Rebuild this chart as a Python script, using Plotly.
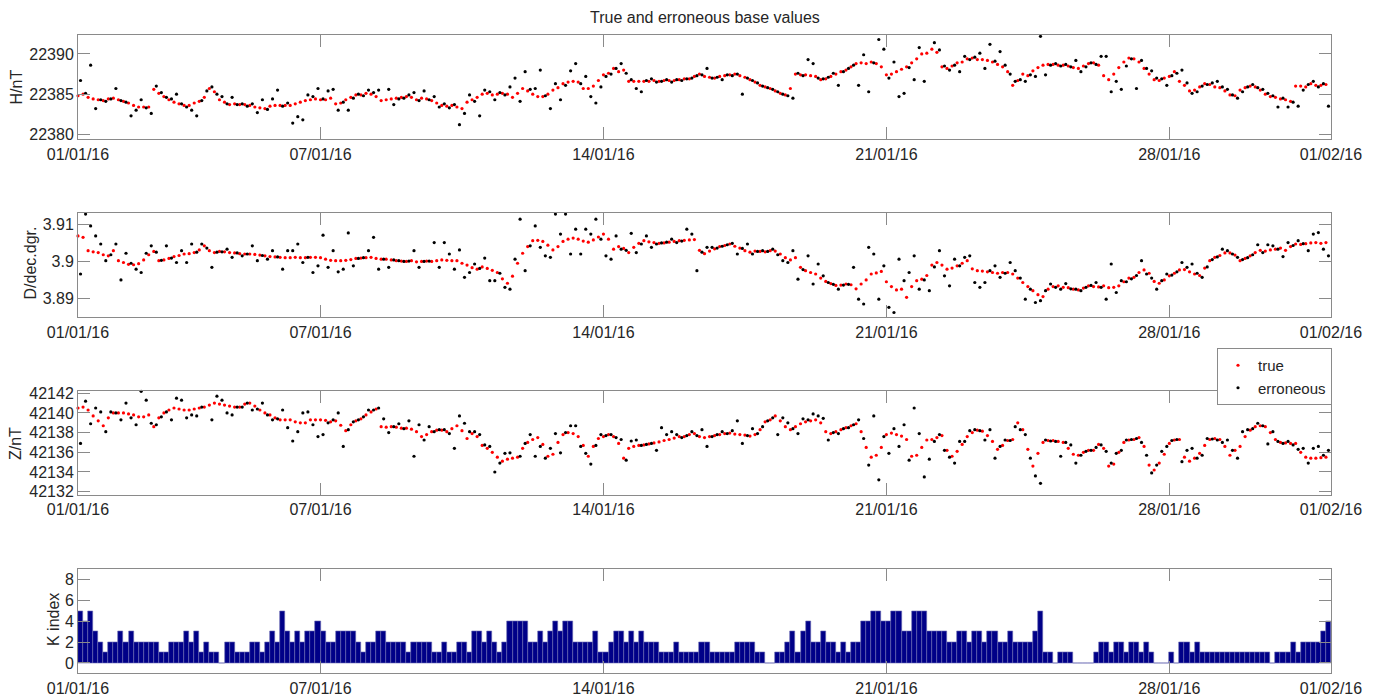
import pandas as pd
import plotly.graph_objects as go

# ---------------- data (3-hourly samples) ----------------
H_TRUE = [
    22384.8, 22385.0, 22384.6, 22384.4, 22384.3, 22384.2, 22384.4, 22384.5,
    22384.3, 22384.1, 22383.9, 22383.6, 22383.4, 22383.4, 22383.4, 22385.6,
    22385.1, 22384.7, 22384.3, 22384.0, 22383.8, 22383.6, 22383.6, 22383.9,
    22384.1, 22384.6, 22385.7, 22385.3, 22384.3, 22384.0, 22383.7, 22383.8,
    22383.7, 22383.7, 22383.6, 22383.4, 22383.3, 22383.2, 22383.5, 22383.6,
    22383.6, 22383.6, 22383.6, 22383.8, 22384.0, 22384.2, 22384.3, 22384.4,
    22384.3, 22384.3, 22384.5, 22383.8, 22383.9, 22384.3, 22384.6, 22384.9,
    22384.9, 22385.1, 22385.0, 22384.7, 22384.2, 22384.3, 22384.4, 22384.5,
    22384.6, 22384.7, 22384.6, 22384.3, 22384.5, 22384.4, 22384.2, 22383.9,
    22383.6, 22383.5, 22383.6, 22383.4, 22383.2, 22384.0, 22384.3, 22384.6,
    22385.0, 22385.1, 22384.9, 22385.0, 22385.1, 22385.0, 22384.6, 22385.1,
    22385.7, 22385.4, 22385.0, 22384.7, 22384.7, 22385.0, 22385.5, 22385.8,
    22386.3, 22386.5, 22386.6, 22386.5, 22385.7, 22385.7, 22386.0, 22386.7,
    22387.4, 22387.6, 22388.2, 22387.8, 22388.0, 22386.6, 22386.6, 22386.6,
    22386.6, 22386.6, 22386.7, 22386.6, 22386.7, 22386.7, 22386.7, 22386.8,
    22386.9, 22386.9, 22387.2, 22387.5, 22387.2, 22387.1, 22387.0, 22387.2,
    22387.3, 22387.4, 22387.5, 22387.3, 22387.1, 22386.8, 22386.5, 22386.1,
    22385.9, 22385.7, 22385.4, 22385.1, 22384.9, 22385.7, 22387.5, 22387.4,
    22387.4, 22387.3, 22387.2, 22386.8, 22386.9, 22387.2, 22387.5, 22387.8,
    22388.0, 22388.4, 22388.8, 22388.9, 22388.8, 22389.0, 22388.8, 22388.4,
    22387.4, 22387.5, 22387.8, 22388.1, 22388.4, 22388.9, 22389.4, 22390.0,
    22390.1, 22390.6, 22390.2, 22388.4, 22388.2, 22388.5, 22388.9, 22389.0,
    22389.4, 22389.5, 22389.3, 22389.3, 22389.2, 22389.0, 22388.7, 22388.4,
    22387.8, 22386.1, 22386.7, 22387.5, 22387.3, 22387.9, 22388.3, 22388.6,
    22388.7, 22388.7, 22388.6, 22388.6, 22388.5, 22388.3, 22388.2, 22388.5,
    22388.8, 22388.9, 22388.6, 22387.3, 22386.8, 22387.5, 22388.3, 22389.0,
    22389.5, 22389.4, 22389.0, 22388.2, 22387.5, 22386.8, 22386.7, 22387.0,
    22387.2, 22387.8, 22386.6, 22386.1, 22385.4, 22385.5, 22385.9, 22386.3,
    22386.2, 22385.9, 22385.8, 22385.4, 22384.9, 22384.8, 22385.5, 22385.8,
    22386.0, 22385.9, 22385.5, 22385.0, 22384.7, 22384.6, 22384.4, 22384.3,
    22384.1, 22386.0, 22386.0, 22385.9, 22386.3, 22386.1, 22386.1, 22386.2,
]
H_ERR = [
    22386.7, 22385.1, 22388.6, 22383.2, 22384.3, 22384.1, 22384.4, 22385.7,
    22384.2, 22384.0, 22382.3, 22383.0, 22384.3, 22383.3, 22382.6, 22386.0,
    22385.2, 22384.6, 22384.4, 22385.0, 22383.8, 22383.4, 22383.0, 22382.3,
    22384.2, 22385.4, 22385.9, 22385.0, 22384.7, 22383.8, 22384.6, 22383.7,
    22383.8, 22383.5, 22383.8, 22382.7, 22384.3, 22383.1, 22384.4, 22385.5,
    22383.5, 22383.9, 22381.4, 22382.2, 22381.8, 22384.9, 22384.7, 22385.7,
    22384.4, 22385.4, 22385.6, 22383.0, 22384.0, 22383.0, 22384.5, 22385.0,
    22384.8, 22385.5, 22385.2, 22385.5, 22379.3, 22385.6, 22383.7, 22384.4,
    22384.5, 22384.9, 22385.2, 22384.2, 22385.4, 22384.3, 22384.7, 22383.4,
    22383.8, 22383.3, 22383.7, 22381.2, 22382.6, 22384.9, 22384.1, 22382.3,
    22385.5, 22385.3, 22384.3, 22385.2, 22384.9, 22385.9, 22387.0, 22384.1,
    22387.8, 22385.6, 22385.7, 22388.0, 22384.8, 22383.2, 22386.3, 22384.3,
    22386.1, 22387.9, 22388.8, 22386.3, 22387.2, 22384.7, 22383.9, 22385.9,
    22387.2, 22387.5, 22388.2, 22388.8, 22387.6, 22386.8, 22385.7, 22385.3,
    22386.7, 22386.9, 22386.5, 22386.6, 22386.8, 22386.5, 22386.8, 22386.7,
    22386.9, 22387.0, 22387.3, 22387.4, 22388.2, 22387.0, 22387.1, 22386.8,
    22387.4, 22387.3, 22387.5, 22385.0, 22387.0, 22386.7, 22386.4, 22386.0,
    22385.8, 22385.6, 22385.3, 22385.0, 22384.8, 22384.5, 22387.6, 22387.3,
    22389.3, 22388.8, 22387.0, 22386.9, 22387.1, 22387.6, 22386.1, 22387.8,
    22388.2, 22388.6, 22386.1, 22389.9, 22385.3, 22388.9, 22391.8, 22390.6,
    22387.0, 22389.0, 22384.7, 22385.1, 22388.3, 22386.8, 22390.8, 22386.6,
    22392.4, 22391.4, 22390.5, 22388.5, 22388.0, 22388.6, 22387.8, 22389.7,
    22389.3, 22389.6, 22390.1, 22388.2, 22391.2, 22389.1, 22390.3, 22388.6,
    22387.5, 22386.6, 22386.8, 22386.6, 22387.4, 22387.2, 22392.2, 22387.4,
    22388.6, 22388.8, 22388.5, 22388.7, 22388.4, 22389.2, 22387.8, 22388.4,
    22388.9, 22388.7, 22389.7, 22389.7, 22385.3, 22386.6, 22385.6, 22388.5,
    22389.4, 22385.7, 22389.2, 22388.2, 22387.9, 22387.0, 22386.9, 22386.1,
    22387.3, 22387.6, 22388.0, 22386.4, 22385.1, 22385.3, 22386.0, 22386.2,
    22386.4, 22386.6, 22385.9, 22385.6, 22384.9, 22384.5, 22385.3, 22385.9,
    22386.2, 22385.8, 22385.6, 22385.1, 22384.8, 22383.4, 22384.5, 22383.4,
    22384.0, 22383.5, 22385.5, 22386.2, 22386.6, 22385.9, 22386.3, 22383.5,
]
D_TRUE = [
    3.9069, 3.9065, 3.9029, 3.9026, 3.9024, 3.9018, 3.9015, 3.9029,
    3.9002, 3.8997, 3.8992, 3.8991, 3.8994, 3.9004, 3.9018, 3.9027,
    3.9002, 3.9004, 3.9008, 3.9013, 3.9016, 3.9020, 3.9021, 3.9024,
    3.9031, 3.9042, 3.9029, 3.9024, 3.9027, 3.9026, 3.9024, 3.9023,
    3.9021, 3.9020, 3.9020, 3.9019, 3.9017, 3.9015, 3.9013, 3.9012,
    3.9011, 3.9010, 3.9010, 3.9011, 3.9010, 3.9010, 3.9011, 3.9011,
    3.9010, 3.9006, 3.9003, 3.9002, 3.9002, 3.9003, 3.9005, 3.9008,
    3.9009, 3.9010, 3.9011, 3.9008, 3.9006, 3.9006, 3.9004, 3.9002,
    3.9001, 3.9000, 3.9002, 3.8999, 3.9000, 3.9001, 3.9000, 3.9002,
    3.9004, 3.9003, 3.9002, 3.9002, 3.8995, 3.8990, 3.8983, 3.8979,
    3.8985, 3.8981, 3.8976, 3.8970, 3.8953, 3.8941, 3.8960, 3.8995,
    3.9022, 3.9040, 3.9056, 3.9057, 3.9054, 3.9044, 3.9031, 3.9040,
    3.9054, 3.9060, 3.9063, 3.9060, 3.9055, 3.9052, 3.9058, 3.9066,
    3.9074, 3.9060, 3.9033, 3.9040, 3.9035, 3.9024, 3.9038, 3.9049,
    3.9056, 3.9053, 3.9051, 3.9049, 3.9050, 3.9052, 3.9054, 3.9056,
    3.9057, 3.9058, 3.9059, 3.9030, 3.9021, 3.9028, 3.9034, 3.9040,
    3.9043, 3.9047, 3.9041, 3.9036, 3.9029, 3.9025, 3.9028, 3.9027,
    3.9026, 3.9029, 3.9028, 3.9020, 3.9010, 3.9004, 3.9010, 3.8984,
    3.8975, 3.8970, 3.8966, 3.8955, 3.8946, 3.8940, 3.8935, 3.8936,
    3.8939, 3.8937, 3.8926, 3.8939, 3.8950, 3.8966, 3.8969, 3.8973,
    3.8945, 3.8932, 3.8923, 3.8925, 3.8903, 3.8932, 3.8948, 3.8952,
    3.8962, 3.8990, 3.8997, 3.8990, 3.8979, 3.8982, 3.8988, 3.8995,
    3.9002, 3.8980, 3.8975, 3.8974, 3.8972, 3.8970, 3.8968, 3.8970,
    3.8970, 3.8966, 3.8955, 3.8943, 3.8932, 3.8921, 3.8910, 3.8905,
    3.8925, 3.8932, 3.8934, 3.8930, 3.8929, 3.8925, 3.8923, 3.8928,
    3.8934, 3.8932, 3.8931, 3.8934, 3.8929, 3.8930, 3.8934, 3.8945,
    3.8955, 3.8957, 3.8970, 3.8977, 3.8968, 3.8946, 3.8941, 3.8950,
    3.8961, 3.8968, 3.8977, 3.8978, 3.8972, 3.8966, 3.8962, 3.8982,
    3.9002, 3.9011, 3.9016, 3.9023, 3.9023, 3.9017, 3.9002, 3.9008,
    3.9015, 3.9024, 3.9030, 3.9028, 3.9031, 3.9033, 3.9036, 3.9030,
    3.9040, 3.9047, 3.9046, 3.9048, 3.9050, 3.9051, 3.9049, 3.9051,
]
D_ERR = [
    3.8966, 3.9128, 3.9096, 3.9069, 3.9047, 3.9002, 3.9018, 3.9047,
    3.8950, 3.9022, 3.8995, 3.8979, 3.8970, 3.9022, 3.9042, 3.9025,
    3.9003, 3.9042, 3.9009, 3.8997, 3.9029, 3.8997, 3.9047, 3.9025,
    3.9047, 3.9036, 3.8984, 3.9025, 3.9026, 3.9033, 3.9011, 3.9023,
    3.9015, 3.9020, 3.9042, 3.9002, 3.9016, 3.9006, 3.9029, 3.9012,
    3.8979, 3.9029, 3.9029, 3.9047, 3.8997, 3.9011, 3.8970, 3.8988,
    3.9071, 3.8984, 3.9029, 3.8972, 3.8979, 3.9077, 3.8988, 3.9008,
    3.9010, 3.9029, 3.9065, 3.8979, 3.9006, 3.8984, 3.9004, 3.9002,
    3.9000, 3.9001, 3.9029, 3.8984, 3.9000, 3.9001, 3.9051, 3.8984,
    3.9051, 3.9020, 3.8979, 3.9031, 3.8957, 3.8970, 3.8993, 3.8981,
    3.9009, 3.8948, 3.8948, 3.8968, 3.8930, 3.8925, 3.9006, 3.9114,
    3.8975, 3.9042, 3.9096, 3.9038, 3.9015, 3.9011, 3.9128, 3.9074,
    3.9128, 3.9020, 3.9087, 3.9020, 3.9087, 3.9074, 3.9114, 3.9060,
    3.9015, 3.9006, 3.9069, 3.9033, 3.9030, 3.9076, 3.9024, 3.9047,
    3.9069, 3.9038, 3.9047, 3.9050, 3.9052, 3.9060, 3.9051, 3.9055,
    3.9087, 3.9074, 3.8975, 3.9025, 3.9038, 3.9038, 3.9036, 3.9041,
    3.9045, 3.9049, 3.9020, 3.9035, 3.9047, 3.9020, 3.9027, 3.9029,
    3.9027, 3.9033, 3.9018, 3.9002, 3.8997, 3.9029, 3.8952, 3.8978,
    3.9015, 3.8939, 3.8993, 3.8961, 3.8943, 3.8938, 3.8925, 3.8936,
    3.8938, 3.8984, 3.8898, 3.8885, 3.9038, 3.9020, 3.8898, 3.8988,
    3.8876, 3.8862, 3.9006, 3.8948, 3.8970, 3.9015, 3.8925, 3.8950,
    3.8921, 3.8985, 3.9029, 3.8961, 3.8934, 3.9006, 3.8988, 3.9011,
    3.9015, 3.8943, 3.8930, 3.8943, 3.8975, 3.8988, 3.8957, 3.8968,
    3.8997, 3.8975, 3.8955, 3.8898, 3.8925, 3.8889, 3.8894, 3.8921,
    3.8939, 3.8930, 3.8925, 3.8940, 3.8926, 3.8925, 3.8921, 3.8930,
    3.8935, 3.8943, 3.8930, 3.8898, 3.8993, 3.8916, 3.8948, 3.8945,
    3.8953, 3.8962, 3.9002, 3.8966, 3.8955, 3.8925, 3.8948, 3.8966,
    3.8963, 3.8972, 3.8997, 3.8984, 3.8993, 3.8968, 3.8957, 3.8985,
    3.9005, 3.9012, 3.9033, 3.9029, 3.9020, 3.9011, 3.9005, 3.9010,
    3.9018, 3.9045, 3.9024, 3.9045, 3.9042, 3.9033, 3.9013, 3.9051,
    3.9043, 3.9056, 3.9048, 3.9029, 3.9074, 3.9078, 3.9033, 3.9015,
]
Z_TRUE = [
    42140.5, 42140.6, 42140.3, 42139.7, 42139.2, 42138.7, 42139.5, 42140.0,
    42140.0, 42140.0, 42139.9, 42139.8, 42139.6, 42139.6, 42139.8, 42138.6,
    42139.5, 42140.0, 42140.3, 42140.5, 42140.4, 42140.3, 42140.3, 42140.4,
    42140.5, 42140.6, 42140.8, 42141.0, 42140.9, 42140.8, 42140.7, 42140.6,
    42140.6, 42140.9, 42141.0, 42140.7, 42140.3, 42140.0, 42139.8, 42139.5,
    42139.3, 42139.3, 42139.3, 42139.1, 42139.0, 42139.0, 42139.3, 42139.3,
    42139.3, 42139.25, 42139.1, 42139.2, 42138.75, 42138.2, 42138.8, 42139.2,
    42139.4, 42139.8, 42140.1, 42140.4, 42138.6, 42138.55, 42138.6, 42138.55,
    42138.45, 42138.45, 42138.35, 42138.1, 42137.6, 42137.8, 42138.1, 42138.25,
    42138.25, 42138.1, 42138.4, 42138.7, 42138.2, 42137.4, 42137.9, 42137.6,
    42136.7, 42136.4, 42136.0, 42135.5, 42135.1, 42135.3, 42135.4, 42135.5,
    42136.4, 42137.0, 42137.3, 42137.5, 42136.8, 42135.6, 42135.8, 42137.0,
    42137.8, 42138.0, 42137.9, 42137.6, 42136.7, 42135.6, 42136.6, 42137.4,
    42137.6, 42137.8, 42137.6, 42136.9, 42135.4, 42136.4, 42136.6, 42136.7,
    42136.75, 42136.85, 42136.95, 42137.05, 42137.2, 42137.3, 42137.45, 42137.6,
    42137.6, 42137.8, 42137.9, 42137.6, 42137.5, 42137.6, 42137.7, 42137.8,
    42137.9, 42137.95, 42137.85, 42137.8, 42137.75, 42137.65, 42137.8, 42138.3,
    42139.1, 42139.3, 42139.7, 42139.2, 42138.6, 42138.3, 42138.6, 42138.9,
    42139.1, 42139.2, 42139.3, 42139.0, 42138.1, 42137.9, 42138.1, 42138.3,
    42138.5, 42138.7, 42138.9, 42138.1, 42136.5, 42135.5, 42135.7, 42136.5,
    42137.8, 42137.95, 42137.8, 42137.65, 42137.3, 42135.6, 42135.7, 42136.5,
    42137.25, 42137.3, 42137.5, 42137.7, 42136.2, 42135.6, 42136.1, 42136.8,
    42137.6, 42138.0, 42138.25, 42138.15, 42137.7, 42137.1, 42136.3, 42136.7,
    42137.2, 42137.3, 42139.0, 42138.3, 42136.3, 42134.6, 42135.9, 42137.0,
    42137.2, 42137.2, 42137.1, 42137.0, 42136.4, 42135.8, 42135.7, 42136.0,
    42136.2, 42136.2, 42136.8, 42136.4, 42134.6, 42134.8, 42136.0, 42137.0,
    42137.25, 42137.3, 42137.5, 42136.6, 42134.7, 42134.2, 42134.9, 42135.8,
    42136.9, 42137.25, 42137.3, 42135.5, 42135.1, 42135.4, 42135.9, 42136.7,
    42137.3, 42137.4, 42137.3, 42136.6, 42135.7, 42136.2, 42136.6, 42137.6,
    42138.25, 42138.6, 42138.7, 42138.6, 42138.0, 42137.3, 42137.0, 42136.95,
    42136.9, 42136.9, 42136.0, 42135.5, 42135.4, 42135.4, 42135.45, 42135.5,
]
Z_ERR = [
    42136.9, 42141.2, 42138.9, 42140.5, 42140.1, 42138.1, 42140.1, 42140.0,
    42139.3, 42141.0, 42139.5, 42138.8, 42142.2, 42141.3, 42138.95, 42138.8,
    42139.6, 42140.1, 42139.3, 42141.5, 42141.3, 42139.5, 42139.8, 42139.7,
    42140.6, 42142.3, 42139.3, 42141.7, 42141.3, 42140.0, 42139.8, 42140.6,
    42140.6, 42141.0, 42140.3, 42140.4, 42141.0, 42139.8, 42139.3, 42139.4,
    42140.3, 42138.5, 42137.15, 42138.1, 42140.0, 42140.1, 42138.8, 42137.6,
    42137.8, 42139.0, 42139.3, 42140.0, 42136.6, 42138.3, 42139.1, 42139.3,
    42139.6, 42140.3, 42140.3, 42140.5, 42139.4, 42138.0, 42138.6, 42138.9,
    42138.4, 42139.2, 42135.6, 42138.8, 42137.25, 42138.6, 42138.1, 42138.3,
    42138.3, 42137.9, 42136.4, 42139.7, 42138.95, 42138.1, 42138.1, 42137.8,
    42136.75, 42136.6, 42134.0, 42134.9, 42135.9, 42135.95, 42131.6, 42135.6,
    42136.9, 42137.8, 42135.6, 42136.6, 42135.4, 42136.4, 42137.9, 42135.95,
    42138.0, 42138.7, 42138.7, 42136.6, 42135.9, 42134.8, 42136.7, 42137.8,
    42137.7, 42137.8, 42137.5, 42137.3, 42135.2, 42137.15, 42137.25, 42136.7,
    42136.8, 42136.9, 42136.2, 42138.5, 42137.8, 42138.1, 42137.8, 42137.5,
    42137.7, 42138.1, 42137.7, 42138.3, 42136.6, 42137.6, 42137.8, 42138.1,
    42137.9, 42138.2, 42139.2, 42136.9, 42137.7, 42138.4, 42137.9, 42138.6,
    42139.2, 42139.5, 42137.8, 42139.5, 42139.0, 42138.4, 42137.9, 42139.4,
    42139.3, 42139.9, 42139.7, 42139.45, 42137.25, 42138.0, 42137.9, 42138.4,
    42138.5, 42138.8, 42139.3, 42137.4, 42134.7, 42139.7, 42133.2, 42137.6,
    42135.9, 42138.4, 42136.6, 42138.8, 42135.2, 42140.5, 42137.9, 42133.5,
    42135.3, 42137.1, 42137.8, 42136.2, 42135.5, 42134.9, 42137.1, 42137.1,
    42138.2, 42138.3, 42138.2, 42137.25, 42138.3, 42135.4, 42136.6, 42137.25,
    42137.2, 42138.6, 42138.3, 42137.8, 42135.4, 42133.6, 42132.85, 42137.25,
    42137.15, 42137.1, 42135.6, 42137.0, 42136.75, 42134.9, 42135.7, 42136.1,
    42136.2, 42136.5, 42136.75, 42136.1, 42134.9, 42135.9, 42136.2, 42137.25,
    42137.3, 42137.4, 42137.0, 42135.7, 42133.9, 42134.7, 42136.1, 42136.6,
    42137.2, 42137.3, 42135.05, 42136.2, 42136.4, 42135.4, 42135.7, 42137.4,
    42137.35, 42137.25, 42137.0, 42137.25, 42136.2, 42135.4, 42138.1, 42138.3,
    42138.4, 42138.95, 42138.7, 42136.85, 42138.1, 42137.1, 42136.9, 42137.1,
    42136.75, 42136.3, 42136.4, 42134.9, 42136.4, 42136.6, 42135.7, 42136.2,
]
K_INDEX = [
    5, 4, 5, 3, 2, 1, 2, 2,
    3, 2, 3, 2, 2, 2, 2, 2,
    1, 1, 2, 2, 2, 3, 2, 3,
    1, 2, 1, 1, 0, 2, 2, 1,
    1, 1, 2, 2, 1, 2, 3, 2,
    5, 3, 2, 3, 2, 3, 3, 4,
    3, 2, 2, 3, 3, 3, 3, 2,
    1, 2, 2, 3, 3, 2, 2, 2,
    2, 1, 2, 2, 2, 2, 1, 1,
    2, 1, 1, 2, 2, 1, 3, 3,
    2, 3, 2, 1, 2, 4, 4, 4,
    4, 2, 2, 3, 2, 3, 4, 3,
    4, 4, 2, 2, 2, 2, 3, 1,
    1, 2, 3, 3, 2, 3, 2, 3,
    2, 2, 2, 1, 1, 1, 2, 1,
    1, 1, 1, 2, 2, 1, 1, 1,
    1, 1, 2, 2, 2, 2, 1, 1,
    0, 0, 1, 1, 2, 3, 1, 3,
    4, 2, 2, 3, 2, 2, 1, 2,
    1, 2, 2, 4, 4, 5, 5, 4,
    4, 5, 5, 3, 3, 5, 5, 5,
    3, 3, 3, 3, 2, 2, 3, 3,
    2, 3, 3, 2, 3, 3, 2, 2,
    3, 2, 2, 2, 2, 3, 5, 1,
    1, 0, 1, 1, 1, 0, 0, 0,
    0, 1, 2, 2, 1, 2, 2, 1,
    2, 2, 1, 2, 1, 0, 0, 0,
    1, 0, 2, 2, 1, 2, 1, 1,
    1, 1, 1, 1, 1, 1, 1, 1,
    1, 1, 1, 1, 0, 1, 1, 1,
    2, 1, 2, 2, 2, 2, 3, 4,
]

X_TICK_DATES = ['2016-01-01', '2016-01-07', '2016-01-14', '2016-01-21', '2016-01-28', '2016-02-01']
X_TICK_LABELS = ['01/01/16', '07/01/16', '14/01/16', '21/01/16', '28/01/16', '01/02/16']
H_TICKS = [22380, 22385, 22390]
D_TICKS = [3.89, 3.90, 3.91]
D_TICK_LABELS = ['3.89', '3.9', '3.91']
Z_TICKS = [42132, 42134, 42136, 42138, 42140, 42142]
K_TICKS = [0, 2, 4, 6, 8]
Y_LABELS = ['H/nT', 'D/dec.dgr.', 'Z/nT', 'K index']
TITLE = 'True and erroneous base values'

# ---------------- layout constants ----------------
W, HGT = 1381, 695
FONT = 'Liberation Sans, Arial, Helvetica, sans-serif'
AX_COL = '#8a8a8a'
TXT_COL = '#262626'
X_LEFT, X_RIGHT = 78, 1331
PANELS_PX = [(35, 139.3), (213.3, 317.3), (390.7, 495.0), (569.3, 673.3)]
Y_RANGES = [[22379.38, 22392.36], [3.8849, 3.9130], [42131.66, 42142.26], [-1, 9]]
YLABEL_X = [16.5, 29.5, 15, 53]
YLABEL_Y = [87, 263, 444, 620]

t_true = pd.date_range('2016-01-01 00:00', periods=len(H_TRUE), freq='3h')
t_err = t_true + pd.Timedelta(minutes=90)
t_k = pd.date_range('2016-01-01 01:30', periods=len(K_INDEX), freq='3h')

fig = go.Figure()

series = [(H_TRUE, H_ERR), (D_TRUE, D_ERR), (Z_TRUE, Z_ERR)]
for i, (tv, ev) in enumerate(series, start=1):
    sfx = '' if i == 1 else str(i)
    fig.add_trace(go.Scatter(
        x=t_true, y=tv, mode='markers', name='true',
        marker=dict(color='#ff0000', size=3.2, line=dict(width=0)),
        xaxis='x' + sfx, yaxis='y' + sfx, cliponaxis=False,
        showlegend=(i == 3), legendgroup='true', legendrank=1))
    fig.add_trace(go.Scatter(
        x=t_err, y=ev, mode='markers', name='erroneous',
        marker=dict(color='#000000', size=3.2, line=dict(width=0)),
        xaxis='x' + sfx, yaxis='y' + sfx, cliponaxis=False,
        showlegend=(i == 3), legendgroup='err', legendrank=2))

fig.add_trace(go.Bar(
    x=t_k, y=K_INDEX, width=3 * 3600 * 1000,
    marker=dict(color='#000088', line=dict(color='#6a6ab4', width=0.6)),
    xaxis='x4', yaxis='y4', showlegend=False))

layout = dict(
    width=W, height=HGT, autosize=False,
    margin=dict(l=0, r=0, t=0, b=0, pad=0, autoexpand=False),
    paper_bgcolor='white', plot_bgcolor='white',
    font=dict(family=FONT, size=16, color=TXT_COL),
    bargap=0,
    showlegend=True,
    legend=dict(x=1332 / W, xanchor='right', y=1 - 348 / HGT, yanchor='top',
                bgcolor='white', bordercolor=AX_COL, borderwidth=1,
                font=dict(size=15, family=FONT, color=TXT_COL),
                itemsizing='trace', tracegroupgap=0),
)

y_ticks = [(H_TICKS, [str(v) for v in H_TICKS]), (D_TICKS, D_TICK_LABELS),
           (Z_TICKS, [str(v) for v in Z_TICKS]), (K_TICKS, [str(v) for v in K_TICKS])]

annotations = [dict(text=TITLE, x=(X_LEFT + X_RIGHT) / 2 / W, y=1 - 17 / HGT,
                    xref='paper', yref='paper', showarrow=False,
                    xanchor='center', yanchor='middle',
                    font=dict(size=16, family=FONT, color=TXT_COL))]

for k in range(4):
    sfx = '' if k == 0 else str(k + 1)
    top, bot = PANELS_PX[k]
    layout['xaxis' + sfx] = dict(
        type='date', range=['2016-01-01', '2016-02-01'],
        domain=[X_LEFT / W, X_RIGHT / W], anchor='y' + sfx, automargin=False,
        tickmode='array', tickvals=X_TICK_DATES, ticktext=X_TICK_LABELS,
        ticks='inside', ticklen=12, tickwidth=1, tickcolor=AX_COL,
        showline=True, linecolor=AX_COL, linewidth=1, mirror='ticks',
        showgrid=False, zeroline=False,
        tickfont=dict(size=16, family=FONT, color=TXT_COL))
    tv, tt = y_ticks[k]
    layout['yaxis' + sfx] = dict(
        range=Y_RANGES[k], domain=[1 - bot / HGT, 1 - top / HGT],
        anchor='x' + sfx, automargin=False,
        tickmode='array', tickvals=tv, ticktext=tt,
        ticks='inside', ticklen=12, tickwidth=1, tickcolor=AX_COL,
        showline=True, linecolor=AX_COL, linewidth=1, mirror='ticks',
        showgrid=False, zeroline=False,
        tickfont=dict(size=16, family=FONT, color=TXT_COL))
    annotations.append(dict(text=Y_LABELS[k], x=YLABEL_X[k] / W, y=1 - YLABEL_Y[k] / HGT,
                            xref='paper', yref='paper', showarrow=False, textangle=-90,
                            xanchor='center', yanchor='middle',
                            font=dict(size=16, family=FONT, color=TXT_COL)))

layout['annotations'] = annotations
fig.update_layout(**layout)

# remove the browser's default 8px page margin so the figure sits at the window origin
fig.write_html('out.html', config={'displayModeBar': False},
               post_script="document.body.style.margin='0';document.body.style.overflow='hidden';")
